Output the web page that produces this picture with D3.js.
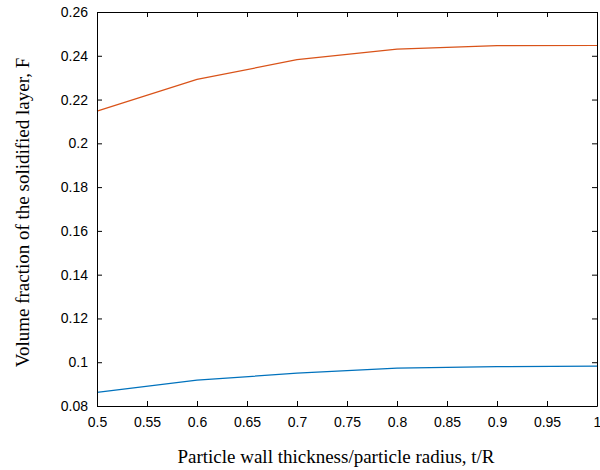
<!DOCTYPE html>
<html><head><meta charset="utf-8">
<script src="https://cdn.jsdelivr.net/npm/d3@7"></script>
<style>body{margin:0;background:#fff}svg{display:block}</style>
</head><body>
<svg id="c" width="600" height="470"></svg>
<script>
const xValues = [0.5, 0.6, 0.7, 0.8, 0.9, 1.0];
const seriesOrange = [0.2147, 0.2292, 0.2382, 0.2430, 0.2446, 0.2447];
const seriesBlue = [0.0862, 0.0918, 0.0950, 0.0973, 0.0980, 0.0982];
const xTicks = [0.5,0.55,0.6,0.65,0.7,0.75,0.8,0.85,0.9,0.95,1];
const yTicks = [0.08,0.1,0.12,0.14,0.16,0.18,0.2,0.22,0.24,0.26];
const xLabel = "Particle wall thickness/particle radius, t/R";
const yLabel = "Volume fraction of the solidified layer, F";

const svg = d3.select("#c");
const L=97, R=597, T=12, B=406;
const x = d3.scaleLinear().domain([0.5,1]).range([L,R]);
const y = d3.scaleLinear().domain([0.08,0.26]).range([B,T]);
const fmt = d => String(+d.toFixed(2));
const tickFont = "'Liberation Sans', Arial, sans-serif";

const line = d3.line().x((d,i)=>x(xValues[i])).y(d=>y(d));
svg.append("path").datum(seriesOrange).attr("d",line).attr("fill","none").attr("stroke","#D95319").attr("stroke-width",1.2);
svg.append("path").datum(seriesBlue).attr("d",line).attr("fill","none").attr("stroke","#0072BD").attr("stroke-width",1.2);

function styleAxis(g){
  g.select(".domain").attr("stroke","#000");
  g.selectAll(".tick line").attr("stroke","#000");
  g.selectAll("text").attr("fill","#000").attr("font-family",tickFont).attr("font-size",14);
}
svg.append("g").attr("transform",`translate(0,${B})`)
  .call(d3.axisBottom(x).tickValues(xTicks).tickFormat(fmt).tickSizeInner(-5).tickSizeOuter(0).tickPadding(11))
  .call(styleAxis);
svg.append("g").attr("transform",`translate(0,${T})`)
  .call(d3.axisTop(x).tickValues(xTicks).tickFormat("").tickSizeInner(-5).tickSizeOuter(0))
  .call(styleAxis);
svg.append("g").attr("transform",`translate(${L},0)`)
  .call(d3.axisLeft(y).tickValues(yTicks).tickFormat(fmt).tickSizeInner(-5).tickSizeOuter(0).tickPadding(9))
  .call(styleAxis);
svg.append("g").attr("transform",`translate(${R},0)`)
  .call(d3.axisRight(y).tickValues(yTicks).tickFormat("").tickSizeInner(-5).tickSizeOuter(0))
  .call(styleAxis);

svg.append("text").attr("x",336).attr("y",463).attr("text-anchor","middle")
  .attr("font-family","'Liberation Serif','Times New Roman',serif").attr("font-size",19).text(xLabel);
svg.append("text").attr("transform",`translate(29,212.5) rotate(-90)`).attr("text-anchor","middle")
  .attr("font-family","'Liberation Serif','Times New Roman',serif").attr("font-size",19).text(yLabel);
</script>
</body></html>
